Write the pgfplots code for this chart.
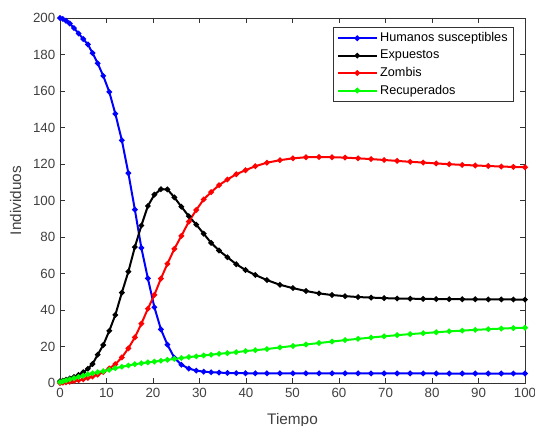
\documentclass[border=0pt]{standalone}
\usepackage{pgfplots}
\pgfplotsset{compat=1.18}
\usepackage{pgfplotstable}
\usepackage{fontspec}
\setmainfont{Liberation Sans}
\setsansfont{Liberation Sans}

% Solucion numerica del modelo SEZR (t, S, E, Z, R)
\pgfplotstableread{
t     S      E      Z      R
0     200    1.0    0.0    0.5
0.6   199.5  1.3    0.2    0.9
1.3   198.5  1.8    0.4    1.4
2.1   197.0  2.5    0.7    2.0
3.0   194.5  3.3    1.0    2.6
4.0   191.5  4.4    1.5    3.3
5.0   188.5  5.9    2.0    4.0
6.0   185.5  7.8    2.8    4.7
7.0   180.8  10.4   3.5    5.3
8.1   175.2  15.5   4.6    5.9
9.3   168.3  20.8   6.0    6.4
10.6  159.5  28.6   8.0    7.2
11.9  147.5  37.3   10.3   8.1
13.3  133.0  49.5   14.0   8.9
14.7  115.0  61.0   19.0   9.6
16.1  95.0   74.5   25.0   10.3
17.5  74.0   86.3   32.5   10.8
18.9  57.3   97.0   40.7   11.3
20.3  41.5   103.2  48.3   11.7
21.7  29.4   106.2  57.2   12.2
23.1  21.0   106.1  65.3   12.7
24.6  13.8   101.7  73.5   13.2
26.1  10.0   96.6   80.6   13.7
27.7  7.9    91.4   88.4   14.2
29.3  6.8    86.8   94.8   14.6
30.9  6.2    81.8   100.6  15.1
32.5  5.9    76.8   104.6  15.5
34.2  5.7    72.6   108.4  16.0
36.0  5.5    68.9   111.5  16.4
37.9  5.4    65.1   114.4  16.9
39.9  5.35   61.9   116.6  17.5
42.0  5.3    59.2   118.8  18.0
44.5  5.3    56.4   120.7  18.6
47.3  5.3    53.8   122.1  19.5
50.1  5.3    52.0   123.1  20.3
52.9  5.3    50.4   123.7  21.1
55.7  5.3    49.1   123.8  21.9
58.5  5.3    48.2   123.7  22.7
61.3  5.3    47.6   123.5  23.5
64.1  5.3    47.1   123.1  24.2
66.9  5.25   46.8   122.7  24.9
69.7  5.25   46.5   122.2  25.6
72.5  5.25   46.3   121.7  26.2
75.3  5.25   46.2   121.2  26.8
78.1  5.25   46.1   120.8  27.3
80.9  5.2    46.0   120.3  27.8
83.7  5.2    45.95  119.9  28.3
86.5  5.2    45.9   119.5  28.7
89.3  5.2    45.85  119.2  29.1
92.1  5.2    45.8   118.9  29.5
94.9  5.2    45.8   118.6  29.8
97.5  5.2    45.75  118.4  30.1
100   5.2    45.7   118.2  30.3
}\datos

\definecolor{ticktext}{RGB}{64,64,64}
\definecolor{mgreen}{RGB}{0,255,0}

\begin{document}
\begin{tikzpicture}
\useasboundingbox (-45pt,-31.5pt) rectangle (356.25pt,287.25pt);
\begin{axis}[
  scale only axis,
  width=348.75pt, height=273.75pt,
  xmin=0, xmax=100, ymin=0, ymax=200,
  xtick={0,10,...,100}, ytick={0,20,...,200},
  tick align=inside,
  major tick length=4pt,
  axis line style={draw=black!80, line width=0.5pt},
  tick style={draw=black!80, line width=0.5pt},
  ticklabel style={font=\fontsize{10}{12}\selectfont, text=ticktext},
  /pgf/number format/assume math mode=true,
  xlabel={Tiempo}, ylabel={Individuos},
  label style={font=\fontsize{11.5}{13}\selectfont, text=ticktext},
  xlabel style={yshift=-5.3pt},
  ylabel style={yshift=2pt},
  legend style={at={(0.9763,0.9753)}, anchor=north east,
    draw=black!80, line width=0.5pt, font=\fontsize{9.5}{11.5}\selectfont,
    inner xsep=2.5pt, inner ysep=2pt,
    row sep=0.8pt},
  legend cell align=left,
  legend image code/.code={%
    \draw[mark repeat=2, mark phase=2] plot coordinates {(6pt,0pt) (20.5pt,0pt) (35pt,0pt)};},
  every axis plot/.append style={line width=1.5pt, mark=*, mark size=1.25pt},
]
\addplot[color=blue, mark options={fill=blue, draw=blue}] table[x=t, y=S] {\datos};
\addlegendentry{Humanos susceptibles}
\addplot[color=black, mark options={fill=black, draw=black}] table[x=t, y=E] {\datos};
\addlegendentry{Expuestos}
\addplot[color=red, mark options={fill=red, draw=red}] table[x=t, y=Z] {\datos};
\addlegendentry{Zombis}
\addplot[color=mgreen, mark options={fill=mgreen, draw=mgreen}] table[x=t, y=R] {\datos};
\addlegendentry{Recuperados}
\end{axis}
\end{tikzpicture}
\end{document}
